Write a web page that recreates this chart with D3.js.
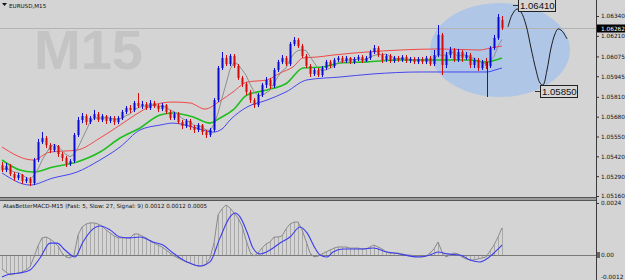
<!DOCTYPE html>
<html>
<head>
<meta charset="utf-8">
<script src="https://cdn.jsdelivr.net/npm/d3@7"></script>
<style>
  body { margin: 0; background: #d4d4d4; }
  svg { display: block; }
</style>
</head>
<body>
<svg id="chart"></svg>
<script>
// EURUSD M15 candles, one entry per bar
const open = [1.05363,1.05330,1.05357,1.05304,1.05278,1.05298,1.05258,1.05271,1.05245,1.05396,
  1.05514,1.05540,1.05494,1.05461,1.05488,1.05435,1.05409,1.05370,1.05389,1.05560,
  1.05658,1.05684,1.05645,1.05671,1.05697,1.05658,1.05684,1.05652,1.05671,1.05645,
  1.05671,1.05711,1.05737,1.05724,1.05770,1.05750,1.05763,1.05737,1.05770,1.05750,
  1.05730,1.05756,1.05711,1.05671,1.05697,1.05645,1.05619,1.05652,1.05612,1.05593,
  1.05625,1.05579,1.05560,1.05593,1.05789,1.05999,1.06065,1.06025,1.06078,1.06012,
  1.05934,1.05894,1.05842,1.05789,1.05756,1.05822,1.05888,1.05921,1.05881,1.05986,
  1.06039,1.06065,1.06025,1.06157,1.06183,1.06143,1.06078,1.06012,1.05960,1.05986,
  1.05953,1.05999,1.06039,1.06012,1.06052,1.06065,1.06045,1.06065,1.06039,1.06058,
  1.06071,1.06045,1.06065,1.06104,1.06130,1.06084,1.06052,1.06078,1.06045,1.06065,
  1.06052,1.06071,1.06045,1.06058,1.06039,1.06058,1.06039,1.06065,1.06025,1.06084,
  1.06216,1.06019,1.06084,1.06117,1.06052,1.06104,1.06065,1.06084,1.06019,1.06052,
  1.05999,1.06039,1.06012,1.06130,1.06196,1.06314];
const high = [1.05383,1.05376,1.05370,1.05317,1.05311,1.05304,1.05284,1.05284,1.05409,1.05534,
  1.05579,1.05553,1.05507,1.05501,1.05494,1.05448,1.05422,1.05402,1.05573,1.05678,
  1.05704,1.05697,1.05684,1.05724,1.05711,1.05697,1.05691,1.05684,1.05684,1.05684,
  1.05724,1.05750,1.05756,1.05783,1.05835,1.05783,1.05776,1.05789,1.05783,1.05763,
  1.05770,1.05763,1.05724,1.05711,1.05711,1.05658,1.05665,1.05665,1.05625,1.05638,
  1.05632,1.05593,1.05606,1.05802,1.06012,1.06104,1.06084,1.06091,1.06091,1.06025,
  1.05947,1.05907,1.05855,1.05802,1.05835,1.05901,1.05940,1.05934,1.05999,1.06052,
  1.06084,1.06078,1.06170,1.06202,1.06196,1.06157,1.06091,1.06025,1.05999,1.05999,
  1.06012,1.06052,1.06052,1.06065,1.06078,1.06078,1.06078,1.06071,1.06071,1.06084,
  1.06084,1.06078,1.06117,1.06150,1.06143,1.06098,1.06091,1.06091,1.06078,1.06078,
  1.06084,1.06084,1.06071,1.06071,1.06071,1.06071,1.06078,1.06078,1.06117,1.06281,
  1.06229,1.06104,1.06137,1.06130,1.06124,1.06117,1.06104,1.06098,1.06065,1.06065,
  1.06052,1.06065,1.06143,1.06216,1.06353,1.06340];
const low = [1.05317,1.05317,1.05291,1.05258,1.05265,1.05239,1.05245,1.05225,1.05232,1.05383,
  1.05501,1.05475,1.05442,1.05448,1.05416,1.05389,1.05350,1.05357,1.05376,1.05547,
  1.05638,1.05625,1.05632,1.05658,1.05645,1.05645,1.05632,1.05638,1.05625,1.05632,
  1.05658,1.05697,1.05704,1.05711,1.05737,1.05730,1.05724,1.05724,1.05737,1.05711,
  1.05717,1.05697,1.05658,1.05658,1.05632,1.05599,1.05606,1.05593,1.05573,1.05579,
  1.05560,1.05540,1.05547,1.05579,1.05776,1.05986,1.06012,1.06012,1.05999,1.05921,
  1.05875,1.05822,1.05770,1.05737,1.05743,1.05809,1.05868,1.05862,1.05868,1.05973,
  1.06025,1.06012,1.06012,1.06143,1.06130,1.06065,1.05999,1.05940,1.05947,1.05940,
  1.05940,1.05986,1.05999,1.05999,1.06039,1.06032,1.06032,1.06025,1.06025,1.06045,
  1.06032,1.06039,1.06052,1.06091,1.06071,1.06032,1.06039,1.06032,1.06032,1.06039,
  1.06039,1.06032,1.06032,1.06025,1.06025,1.06025,1.06025,1.06012,1.06012,1.06071,
  1.05953,1.05999,1.06065,1.06039,1.06039,1.06039,1.06052,1.05999,1.05999,1.05980,
  1.05986,1.05993,1.05999,1.06117,1.06183,1.06248];
const close = [1.05330,1.05357,1.05304,1.05278,1.05298,1.05258,1.05271,1.05245,1.05396,1.05514,
  1.05540,1.05494,1.05461,1.05488,1.05435,1.05409,1.05370,1.05389,1.05560,1.05658,
  1.05684,1.05645,1.05671,1.05697,1.05658,1.05684,1.05652,1.05671,1.05645,1.05671,
  1.05711,1.05737,1.05724,1.05770,1.05750,1.05763,1.05737,1.05770,1.05750,1.05730,
  1.05756,1.05711,1.05671,1.05697,1.05645,1.05619,1.05652,1.05612,1.05593,1.05625,
  1.05579,1.05560,1.05593,1.05789,1.05999,1.06065,1.06025,1.06078,1.06012,1.05934,
  1.05894,1.05842,1.05789,1.05756,1.05822,1.05888,1.05921,1.05881,1.05986,1.06039,
  1.06065,1.06025,1.06157,1.06183,1.06143,1.06078,1.06012,1.05960,1.05986,1.05953,
  1.05999,1.06039,1.06012,1.06052,1.06065,1.06045,1.06065,1.06039,1.06058,1.06071,
  1.06045,1.06065,1.06104,1.06130,1.06084,1.06052,1.06078,1.06045,1.06065,1.06052,
  1.06071,1.06045,1.06058,1.06039,1.06058,1.06039,1.06065,1.06025,1.06084,1.06216,
  1.06019,1.06084,1.06117,1.06052,1.06104,1.06065,1.06084,1.06019,1.06052,1.05999,
  1.06039,1.06012,1.06130,1.06196,1.06333,1.06262];

// channel lines: [bar, price]
const upperBand = [[0,1.05481],[7.75,1.05396],[12,1.05448],[18.75,1.05461],[24.5,1.05540],[29.5,1.05625],
  [34.5,1.05711],[37.75,1.05756],[42.75,1.05776],[47,1.05770],[50.75,1.05730],[54.5,1.05783],
  [57.75,1.05842],[61.25,1.05907],[66.25,1.05921],[69.5,1.05966],[72.75,1.06006],[75.25,1.06065],
  [78.75,1.06071],[82.75,1.06084],[91.25,1.06104],[99.5,1.06117],[109.5,1.06124],[119.5,1.06117],
  [122,1.06130],[125,1.06143]];
const midBand = [[0,1.05396],[4.5,1.05330],[7.75,1.05317],[12.75,1.05350],[18.75,1.05383],[24.5,1.05448],
  [29.5,1.05540],[34.5,1.05606],[39.5,1.05691],[42.75,1.05704],[47.75,1.05678],[52,1.05638],
  [54.5,1.05671],[57.75,1.05724],[61.25,1.05822],[66.25,1.05855],[71.25,1.05901],[75.25,1.05999],
  [80.25,1.06006],[84.5,1.06032],[91.25,1.06039],[99.5,1.06052],[117,1.06052],[120.75,1.06039],
  [125,1.06065]];
const lowerBand = [[0,1.05311],[7,1.05232],[12.75,1.05278],[18.75,1.05317],[24.5,1.05396],[29.5,1.05481],
  [34.5,1.05593],[39.5,1.05625],[42.75,1.05638],[47.75,1.05612],[52.75,1.05579],[55,1.05599],
  [57,1.05658],[61.25,1.05743],[66.25,1.05789],[71,1.05842],[76.25,1.05921],[84.5,1.05940],
  [92.75,1.05960],[104.5,1.05973],[121.25,1.05973],[123.25,1.05986],[125,1.05999]];

// AtasBetterMACD, one value per bar
const macd = [-0.00065,-0.00079,-0.00092,-0.00088,-0.00083,-0.00079,-0.00069,-0.00055,-0.00009,0.00042,
  0.00079,0.00083,0.00074,0.00060,0.00042,0.00009,-0.00009,-0.00014,0,0.00092,
  0.00129,0.00143,0.00148,0.00148,0.00143,0.00134,0.00116,0.00102,0.00088,0.00079,
  0.00079,0.00079,0.00079,0.00097,0.00097,0.00088,0.00079,0.00065,0.00055,0.00046,
  0.00037,0.00023,0.00009,-0.00005,-0.00014,-0.00023,-0.00032,-0.00037,-0.00046,-0.00051,
  -0.00051,-0.00042,-0.00014,0.00055,0.00185,0.00213,0.00231,0.00217,0.00194,0.00171,
  0.00134,0.00069,0.00014,-0.00005,0.00009,0.00032,0.00051,0.00060,0.00083,0.00083,
  0.00088,0.00120,0.00143,0.00152,0.00152,0.00116,0.00065,0.00009,-0.00009,-0.00005,
  0.00005,0.00014,0.00023,0.00032,0.00037,0.00037,0.00037,0.00032,0.00032,0.00032,
  0.00028,0.00028,0.00037,0.00046,0.00037,0.00028,0.00014,0.00009,0.00009,0.00009,
  0.00005,0,0,-0.00005,-0.00005,-0.00009,-0.00005,0.00009,0.00028,0.00060,
  0.00014,-0.00009,0,0.00009,0.00005,-0.00009,-0.00018,-0.00023,-0.00023,-0.00018,
  -0.00014,-0.00009,0.00018,0.00046,0.00083,0.00125];
const signal = [[0,-0.00102],[2,-0.00088],[4.5,-0.00083],[7,-0.00069],[9.5,-0.00014],[12,0.00055],
  [13.75,0.00055],[15.75,0.00023],[18.25,-0.00009],[20.25,0.00060],[22.5,0.00116],[24.5,0.00134],
  [27,0.00116],[29.5,0.00083],[32,0.00079],[34.5,0.00083],[37.75,0.00060],[40.25,0.00046],
  [42.75,0.00009],[46.25,-0.00032],[49.5,-0.00051],[52,-0.00032],[54.5,0.00079],[57,0.00176],
  [58.25,0.00194],[59.5,0.00176],[61.25,0.00106],[62.75,0.00032],[64.5,0.00005],[67,0.00023],
  [69.5,0.00055],[72,0.00083],[74.5,0.00129],[76.25,0.00102],[78.25,0.00032],[79.5,0],
  [81.25,-0.00009],[82.75,0.00014],[85.25,0.00028],[90.25,0.00028],[92.75,0.00032],[96.25,0.00014],
  [99.5,0.00005],[102,-0.00005],[104.5,-0.00009],[107,0],[109,0.00014],[111.25,0.00005],
  [114.5,0],[117,-0.00023],[119.5,-0.00032],[121.5,-0.00014],[123.25,0.00014],[125,0.00046]];

// axis labels
const priceTicks = [1.06340, 1.06210, 1.06075, 1.05945, 1.05810, 1.05680, 1.05550, 1.05420, 1.05290, 1.05160];
const macdTicks = [0.0024, 0, -0.0012];
const macdTickLabels = ["0.0024", "0.00", "-0.0012"];
const lastPrice = 1.06262;

// hand drawn forecast: [bar, price]
const forecast = [[126.5,1.06268],[127.5,1.06347],[128.75,1.06386],[129.75,1.06366],[131,1.06281],
  [132.25,1.06130],[133.5,1.05986],[134.5,1.05901],[135.25,1.05888],[136.25,1.05986],
  [137.25,1.06130],[138.25,1.06222],[139,1.06255],[140,1.06242],[141.25,1.06190]];
const priceMarks = [{bar: 129, price: 1.06410, text: "1.06410"}, {bar: 134.5, price: 1.05850, text: "1.05850"}];
const zoneBars = [107, 142];
const zonePrices = [1.05809, 1.06425];
const spike = {bar: 121.25, from: 1.06039, to: 1.05809};

const W = 625, H = 280;
const axisX = 596;

const svg = d3.select("#chart").attr("width", W).attr("height", H);
svg.append("rect").attr("width", W).attr("height", H).attr("fill", "#d4d4d4");

const x = d3.scaleLinear().domain([0, 125]).range([2, 502]);
const y = d3.scaleLinear().domain([1.05160, 1.06340]).range([196, 16]);
const ym = d3.scaleLinear().domain([-0.0012, 0.0024]).range([281, 203]);

svg.append("clipPath").attr("id", "clipMain")
  .append("rect").attr("x", 0).attr("y", 0).attr("width", axisX).attr("height", 198);
svg.append("clipPath").attr("id", "clipMacd")
  .append("rect").attr("x", 0).attr("y", 201).attr("width", axisX).attr("height", 79);

const main = svg.append("g").attr("clip-path", "url(#clipMain)");

// watermark
main.append("text")
  .attr("x", 34).attr("y", 69)
  .attr("font-family", "'Liberation Sans', Arial, sans-serif")
  .attr("font-weight", "bold")
  .attr("font-size", 56)
  .attr("fill", "#c4c4c4")
  .text("M15");

// highlighted zone
main.append("ellipse")
  .attr("cx", (x(zoneBars[0]) + x(zoneBars[1])) / 2)
  .attr("cy", (y(zonePrices[0]) + y(zonePrices[1])) / 2)
  .attr("rx", (x(zoneBars[1]) - x(zoneBars[0])) / 2)
  .attr("ry", (y(zonePrices[0]) - y(zonePrices[1])) / 2)
  .attr("fill", "#afc6e6");

// last price line
main.append("line")
  .attr("x1", 0).attr("x2", axisX)
  .attr("y1", Math.round(y(lastPrice)) + 0.5).attr("y2", Math.round(y(lastPrice)) + 0.5)
  .attr("stroke", "#b4b4b4");

const bandLine = d3.line()
  .x(d => x(d[0])).y(d => y(d[1]))
  .curve(d3.curveMonotoneX);

main.append("path").datum(upperBand).attr("d", bandLine)
  .attr("fill", "none").attr("stroke", "#f04848").attr("stroke-width", 1);
main.append("path").datum(midBand).attr("d", bandLine)
  .attr("fill", "none").attr("stroke", "#1fbf1f").attr("stroke-width", 1.6);
main.append("path").datum(lowerBand).attr("d", bandLine)
  .attr("fill", "none").attr("stroke", "#4646f0").attr("stroke-width", 1);

// fast moving average of closes
const period = 5;
const fastMa = close.map((c, i) => d3.mean(close.slice(Math.max(0, i - period + 1), i + 1)));
main.append("path").datum(fastMa)
  .attr("d", d3.line().x((d, i) => x(i)).y(d => y(d)))
  .attr("fill", "none").attr("stroke", "#8e8e8e").attr("stroke-width", 1);

// candles
const bars = close.map((c, i) => ({i, o: open[i], h: high[i], l: low[i], c}));
const colorOf = d => d.c >= d.o ? "#0a0ad2" : "#d20a0a";

main.selectAll(".wick").data(bars).join("line")
  .attr("class", "wick")
  .attr("x1", d => Math.round(x(d.i)) + 0.5).attr("x2", d => Math.round(x(d.i)) + 0.5)
  .attr("y1", d => y(d.h)).attr("y2", d => y(d.l))
  .attr("stroke", colorOf);

main.selectAll(".body").data(bars).join("rect")
  .attr("class", "body")
  .attr("x", d => Math.round(x(d.i)) - 0.5)
  .attr("width", 2)
  .attr("y", d => y(Math.max(d.o, d.c)))
  .attr("height", d => Math.max(1, Math.abs(y(d.o) - y(d.c))))
  .attr("fill", colorOf);

main.append("line")
  .attr("x1", Math.round(x(spike.bar)) + 0.5).attr("x2", Math.round(x(spike.bar)) + 0.5)
  .attr("y1", y(spike.from)).attr("y2", y(spike.to))
  .attr("stroke", "#2a2a2a");

// forecast scribble
main.append("path").datum(forecast)
  .attr("d", d3.line().x(d => x(d[0])).y(d => y(d[1])).curve(d3.curveCatmullRom))
  .attr("fill", "none").attr("stroke", "#1e1e1e").attr("stroke-width", 1);

const marks = main.selectAll(".mark").data(priceMarks).join("g").attr("class", "mark");
marks.append("line")
  .attr("x1", d => x(d.bar) - 5).attr("x2", d => x(d.bar))
  .attr("y1", d => Math.round(y(d.price)) + 0.5).attr("y2", d => Math.round(y(d.price)) + 0.5)
  .attr("stroke", "#333");
marks.append("rect")
  .attr("x", d => Math.round(x(d.bar)) + 0.5)
  .attr("y", d => Math.round(y(d.price)) - 5.5)
  .attr("width", 37).attr("height", 12)
  .attr("fill", "#d6d6d6").attr("stroke", "#222");
marks.append("text")
  .attr("x", d => Math.round(x(d.bar)) + 2)
  .attr("y", d => Math.round(y(d.price)) + 4)
  .attr("font-family", "'Liberation Sans', Arial, sans-serif")
  .attr("font-size", 9.6)
  .attr("fill", "#111")
  .text(d => d.text);

// title
svg.append("path").attr("d", "M2,3 L7,3 L4.5,6 Z").attr("fill", "#111");
svg.append("text")
  .attr("x", 9).attr("y", 7.5)
  .attr("font-family", "'DejaVu Sans', sans-serif")
  .attr("font-size", 5.6)
  .attr("fill", "#111")
  .text("EURUSD,M15");

// MACD panel
const sub = svg.append("g").attr("clip-path", "url(#clipMacd)");

sub.selectAll(".hist").data(macd).join("line")
  .attr("class", "hist")
  .attr("x1", (d, i) => Math.round(x(i)) + 0.5).attr("x2", (d, i) => Math.round(x(i)) + 0.5)
  .attr("y1", ym(0)).attr("y2", d => ym(d))
  .attr("stroke", "#a9a9a9").attr("stroke-width", 1);

sub.append("line")
  .attr("x1", 0).attr("x2", axisX)
  .attr("y1", Math.round(ym(0)) + 0.5).attr("y2", Math.round(ym(0)) + 0.5)
  .attr("stroke", "#7a7a7a");

sub.append("path").datum(macd)
  .attr("d", d3.line().x((d, i) => x(i)).y(d => ym(d)))
  .attr("fill", "none").attr("stroke", "#8a8a8a").attr("stroke-width", 1);

sub.append("path").datum(signal)
  .attr("d", d3.line().x(d => x(d[0])).y(d => ym(d[1])).curve(d3.curveMonotoneX))
  .attr("fill", "none").attr("stroke", "#3c3cf0").attr("stroke-width", 1.1);

sub.append("text")
  .attr("x", 3).attr("y", 208)
  .attr("font-family", "'DejaVu Sans', sans-serif")
  .attr("font-size", 5.6)
  .attr("fill", "#111")
  .text("AtasBetterMACD-M15 (Fast: 5, Slow: 27, Signal: 9) 0.0012 0.0012 0.0005");

// separator between panels
svg.append("rect").attr("x", 0).attr("y", 197.5).attr("width", axisX).attr("height", 3).attr("fill", "#9c9c9c");
svg.append("line").attr("x1", 0).attr("x2", axisX).attr("y1", 197.5).attr("y2", 197.5).attr("stroke", "#555");
svg.append("line").attr("x1", 0).attr("x2", axisX).attr("y1", 200.5).attr("y2", 200.5).attr("stroke", "#555");

// price axis
const priceAxis = svg.append("g")
  .attr("transform", `translate(${axisX},0)`)
  .call(d3.axisRight(y).tickValues(priceTicks).tickSize(3).tickPadding(2).tickFormat(d3.format(".5f")));
priceAxis.select(".domain").remove();
priceAxis.selectAll("line").attr("stroke", "#333");
priceAxis.selectAll("text")
  .attr("font-family", "'DejaVu Sans', sans-serif")
  .attr("font-size", 5.8).attr("fill", "#111");

const macdAxis = svg.append("g")
  .attr("transform", `translate(${axisX},0)`)
  .call(d3.axisRight(ym).tickValues(macdTicks).tickSize(3).tickPadding(2)
    .tickFormat((d, i) => macdTickLabels[i]));
macdAxis.select(".domain").remove();
macdAxis.selectAll("line").attr("stroke", "#333");
macdAxis.selectAll("text")
  .attr("font-family", "'DejaVu Sans', sans-serif")
  .attr("font-size", 5.8).attr("fill", "#111")
  .attr("y", (d, i) => i === 2 ? -4 : 0);

// current value markers
svg.append("rect")
  .attr("x", axisX + 1).attr("y", Math.round(y(lastPrice)) - 3.5)
  .attr("width", W - axisX - 1).attr("height", 8).attr("fill", "#000");
svg.append("text")
  .attr("x", axisX + 5).attr("y", Math.round(y(lastPrice)) + 2.5)
  .attr("font-family", "'DejaVu Sans', sans-serif")
  .attr("font-size", 5.8).attr("fill", "#fff")
  .text(d3.format(".5f")(lastPrice));
svg.append("rect")
  .attr("x", axisX + 1).attr("y", ym(0) - 3).attr("width", 3).attr("height", 6).attr("fill", "#666");

svg.append("line")
  .attr("x1", axisX + 0.5).attr("x2", axisX + 0.5)
  .attr("y1", 0).attr("y2", H)
  .attr("stroke", "#3a3a3a");
</script>
</body>
</html>
